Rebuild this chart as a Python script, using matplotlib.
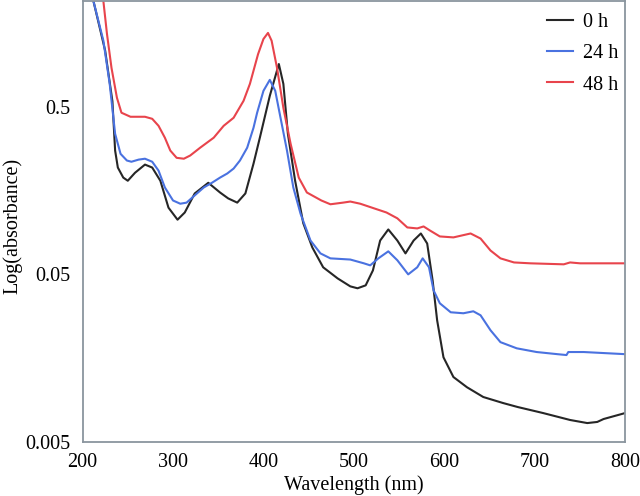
import matplotlib
matplotlib.use("Agg")
import matplotlib.pyplot as plt

# 0 h
wl_0h = [212, 225, 233, 236, 239, 245, 250, 258, 269, 277, 286, 295, 305, 313, 324, 339,
         352, 361, 371, 380, 389, 396, 407, 417, 422, 427, 435, 444, 454, 466, 482, 496,
         504, 513, 521, 529, 538, 548, 557, 566, 574, 581, 587, 592, 599, 610, 625, 643,
         665, 681, 709, 739, 758, 769, 776, 800]
abs_0h = [2.14, 1.08, 0.54, 0.274, 0.217, 0.189, 0.181, 0.202, 0.226, 0.217, 0.181, 0.125,
          0.106, 0.117, 0.152, 0.176, 0.154, 0.142, 0.134, 0.152, 0.229, 0.327, 0.581, 0.90,
          0.685, 0.345, 0.181, 0.101, 0.0724, 0.0551, 0.0473, 0.0424, 0.0413, 0.0430, 0.0528,
          0.0796, 0.0927, 0.0796, 0.0667, 0.0796, 0.0877, 0.0764, 0.0460, 0.0266, 0.0160,
          0.0122, 0.0106, 0.00927, 0.00853, 0.00808, 0.00744, 0.00676, 0.00648, 0.00658,
          0.00685, 0.00744]

# 24 h
wl_24h = [212, 223, 230, 236, 242, 249, 254, 262, 269, 277, 284, 291, 300, 308, 315, 324,
          334, 343, 352, 360, 367, 374, 382, 389, 393, 400, 407, 413, 418, 426, 433, 441,
          452, 463, 474, 496, 511, 518, 527, 538, 548, 560, 570, 576, 583, 588, 595, 607,
          621, 632, 640, 651, 662, 680, 702, 725, 735, 737, 754, 800]
abs_24h = [2.14, 1.24, 0.685, 0.345, 0.262, 0.239, 0.235, 0.242, 0.245, 0.235, 0.208, 0.165,
           0.138, 0.132, 0.134, 0.148, 0.165, 0.176, 0.189, 0.200, 0.214, 0.239, 0.285, 0.375,
           0.461, 0.623, 0.724, 0.623, 0.454, 0.274, 0.165, 0.115, 0.0796, 0.0667, 0.0623,
           0.0613, 0.0582, 0.0566, 0.0623, 0.0686, 0.0607, 0.05, 0.0551, 0.0623, 0.0551,
           0.0402, 0.0336, 0.0297, 0.0293, 0.0301, 0.0285, 0.0232, 0.0197, 0.0181, 0.0172,
           0.0167, 0.0165, 0.0172, 0.0172, 0.0167]

# 48 h
wl_48h = [223, 227, 232, 238, 243, 253, 269, 277, 284, 291, 297, 304, 312, 319, 330, 345,
          356, 367, 378, 385, 394, 400, 405, 409, 415, 422, 430, 439, 448, 464, 474, 488,
          496, 507, 522, 536, 548, 559, 570, 577, 584, 595, 610, 629, 640, 651, 662, 677,
          695, 732, 739, 750, 800]
abs_48h = [2.14, 1.36, 0.853, 0.566, 0.461, 0.436, 0.436, 0.424, 0.385, 0.327, 0.274, 0.248,
           0.245, 0.256, 0.285, 0.327, 0.385, 0.430, 0.543, 0.685, 1.03, 1.27, 1.38, 1.24,
           0.853, 0.493, 0.301, 0.189, 0.154, 0.138, 0.131, 0.134, 0.136, 0.132, 0.124,
           0.117, 0.108, 0.0953, 0.094, 0.0966, 0.0914, 0.0842, 0.0831, 0.0877, 0.0818,
           0.0694, 0.0623, 0.0589, 0.0582, 0.0574, 0.0589, 0.0582, 0.0582]

y_ticks = [0.005, 0.05, 0.5]
y_ticklabels = ["0.005", "0.05", "0.5"]
x_ticks = [200, 300, 400, 500, 600, 700, 800]

plt.rcParams["font.family"] = ["Liberation Serif", "DejaVu Serif"]
plt.rcParams["font.size"] = 14.5

fig = plt.figure(figsize=(6.4, 4.96), dpi=100)
ax = fig.add_axes([0.129, 0.109, 0.848, 0.889])

ax.plot(wl_0h, abs_0h, color="#262626", lw=1.5, label="0 h")
ax.plot(wl_24h, abs_24h, color="#4a72e0", lw=1.5, label="24 h")
ax.plot(wl_48h, abs_48h, color="#e8444c", lw=1.5, label="48 h")

ax.set_yscale("log")
ax.set_xlim(200, 800)
ax.set_ylim(0.005, 2.14)
ax.set_yticks(y_ticks)
ax.set_yticklabels(y_ticklabels)
ax.yaxis.set_minor_locator(matplotlib.ticker.NullLocator())
ax.set_xticks(x_ticks)
ax.tick_params(axis="both", length=0)
ax.tick_params(axis="y", pad=9)
ax.tick_params(axis="x", pad=8)

for sp in ax.spines.values():
    sp.set_color("#8a959e")
    sp.set_linewidth(1.3)

ax.set_xlabel("Wavelength (nm)")
ax.set_ylabel("Log(absorbance)")
ax.xaxis.set_label_coords(0.5, -0.075)
ax.yaxis.set_label_coords(-0.111, 0.49)

ax.legend(loc="upper right", bbox_to_anchor=(1.009, 1.0), frameon=False,
          handlelength=1.25, handletextpad=0.5, labelspacing=0.6, borderaxespad=0.2)

fig.savefig("out.png", dpi=100)
